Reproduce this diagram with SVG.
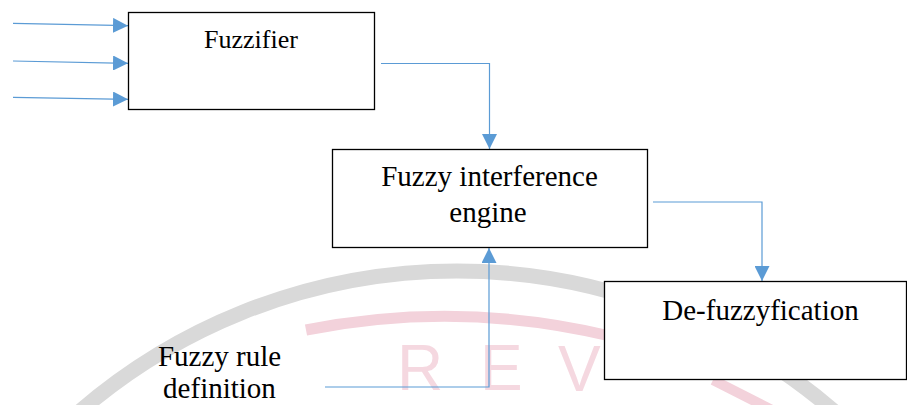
<svg xmlns="http://www.w3.org/2000/svg" width="907" height="405" viewBox="0 0 907 405">
  <style>
    .box { fill: #ffffff; stroke: #000000; stroke-width: 1.3; }
    .lbl { font-family: "Liberation Serif", "Times New Roman", serif; font-size: 29px; fill: #000000; text-anchor: middle; }
    .conn { fill: none; stroke: #5B9BD5; stroke-width: 1.2; }
    .wm-text { font-family: "Liberation Sans", Arial, sans-serif; font-size: 64px; fill: #F5D8E0; }
  </style>
  <defs>
    <marker id="arrow" markerUnits="userSpaceOnUse" markerWidth="16" markerHeight="15" refX="15" refY="7.5" orient="auto">
      <path d="M0,0 L15,7.5 L0,15 z" fill="#5B9BD5"/>
    </marker>
  </defs>
  <rect x="0" y="0" width="907" height="405" fill="#ffffff"/>

  <!-- faint watermark -->
  <g id="watermark">
    <path d="M 70 420 A 577 577 0 0 1 844 420" fill="none" stroke="#D9D9D9" stroke-width="15"/>
    <path d="M 306 330 A 713 713 0 0 1 610 336" fill="none" stroke="#F3D2DB" stroke-width="11"/>
    <line x1="713" y1="380" x2="772" y2="410" stroke="#F3D2DB" stroke-width="10"/>
    <text class="wm-text" x="397" y="390">R</text>
    <text class="wm-text" x="480" y="390">E</text>
    <text class="wm-text" x="558" y="391">V</text>
  </g>

  <g id="connectors">
    <line class="conn" x1="13" y1="23.3" x2="128" y2="25.7" marker-end="url(#arrow)"/>
    <line class="conn" x1="13" y1="61" x2="128" y2="63.3" marker-end="url(#arrow)"/>
    <line class="conn" x1="13" y1="97.3" x2="128" y2="99.3" marker-end="url(#arrow)"/>
    <polyline class="conn" points="381,63.5 489.5,63.5 489.5,149" marker-end="url(#arrow)"/>
    <polyline class="conn" points="653,202 762,202 762,281" marker-end="url(#arrow)"/>
    <polyline class="conn" points="325,387 489,387 489,248" marker-end="url(#arrow)"/>
  </g>

  <g id="fuzzifier">
    <rect class="box" x="128.5" y="12.5" width="246" height="97"/>
    <text class="lbl" x="251" y="48" style="font-size:26px">Fuzzifier</text>
  </g>

  <g id="engine">
    <rect class="box" x="332.5" y="149.5" width="315" height="98"/>
    <text class="lbl" x="489.5" y="186">Fuzzy interference</text>
    <text class="lbl" x="488" y="222">engine</text>
  </g>

  <g id="defuzzyfication">
    <rect class="box" x="604.5" y="281.5" width="302" height="98"/>
    <text class="lbl" x="760.5" y="320">De-fuzzyfication</text>
  </g>

  <g id="rule-definition">
    <text class="lbl" x="219.5" y="366">Fuzzy rule</text>
    <text class="lbl" x="219.5" y="398">definition</text>
  </g>
</svg>
